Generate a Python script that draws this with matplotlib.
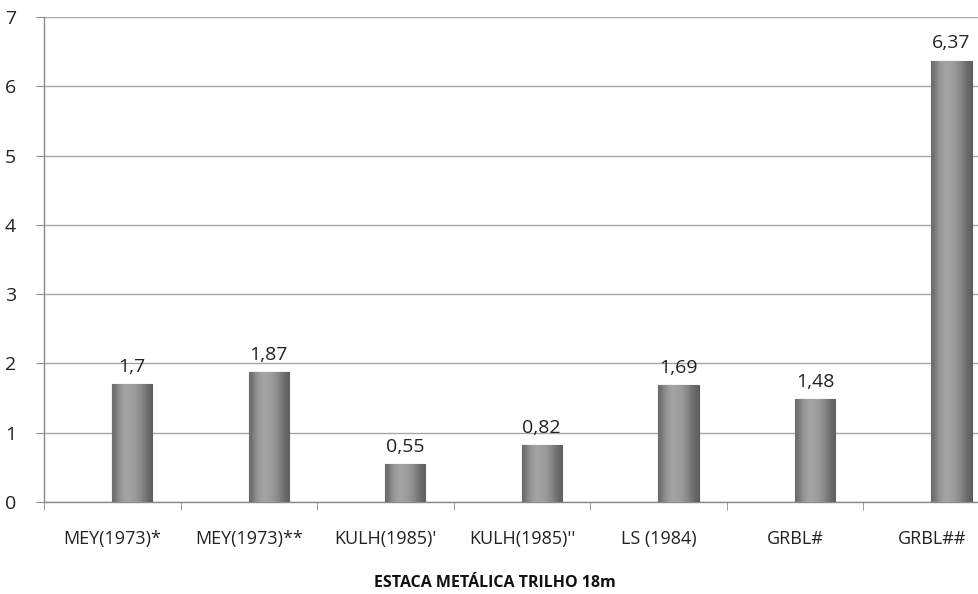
import numpy as np
import matplotlib
matplotlib.use("Agg")
import matplotlib.pyplot as plt

categories = ["MEY(1973)*", "MEY(1973)**", "KULH(1985)'", "KULH(1985)''",
              "LS (1984)", "GRBL#", "GRBL##"]
values = [1.7, 1.87, 0.55, 0.82, 1.69, 1.48, 6.37]
value_labels = ["1,7", "1,87", "0,55", "0,82", "1,69", "1,48", "6,37"]
y_ticks = [0, 1, 2, 3, 4, 5, 6, 7]

plt.rcParams['font.family'] = ['Open Sans', 'DejaVu Sans']

fig = plt.figure(figsize=(9.79, 5.94), dpi=100)
ax = fig.add_axes([44 / 979, 92 / 594, 956 / 979, 485 / 594])

x = np.arange(len(categories))
offset = 0.145
width = 0.295

# horizontal gray gradient for the bars
grad = np.array([0.42, 0.54, 0.61, 0.64, 0.63, 0.61, 0.57, 0.51, 0.44, 0.38])
grad_img = grad[np.newaxis, :]

bars = ax.bar(x + offset, values, width=width, color="#8e8e8e",
              edgecolor="#5a5a5a", linewidth=0.8, zorder=3)
for b in bars:
    bx, by = b.get_x(), b.get_y()
    bw, bh = b.get_width(), b.get_height()
    im = ax.imshow(grad_img, cmap="gray", vmin=0, vmax=1, aspect="auto",
                   extent=[bx, bx + bw, by, by + bh], origin="upper",
                   zorder=3.5, interpolation="bicubic")
    im.set_clip_path(b)

for xi, v, lab in zip(x, values, value_labels):
    ax.annotate(lab, (xi + offset, v), xytext=(0, 6), textcoords="offset points",
                ha="center", va="bottom", fontsize=14, color="#222222")

ax.set_xlim(-0.5, len(categories) - 0.5)
ax.set_ylim(0, 7)
ax.set_yticks(y_ticks)
ax.set_yticklabels([str(t) for t in y_ticks])
ax.set_xticks(x)
ax.set_xticklabels(categories)
ax.set_xticks(np.arange(len(categories) + 1) - 0.5, minor=True)
ax.tick_params(axis="x", which="major", length=0, pad=20, labelsize=13, colors="#222222")
ax.tick_params(axis="x", which="minor", length=6, color="#8a8a8a")
ax.tick_params(axis="y", length=6, color="#8a8a8a", labelsize=14, pad=14, labelcolor="#222222")

ax.grid(axis="y", color="#a6a6a6", linewidth=1, zorder=0)
ax.set_axisbelow(True)
for s in ["top", "right"]:
    ax.spines[s].set_visible(False)
for s in ["left", "bottom"]:
    ax.spines[s].set_color("#8a8a8a")
    ax.spines[s].set_linewidth(1)

fig.text(495 / 979, 11 / 594, "ESTACA METÁLICA TRILHO 18m", ha="center", va="center",
         fontsize=11.5, fontweight="bold", color="#111111")

fig.savefig("out.png", dpi=100)
